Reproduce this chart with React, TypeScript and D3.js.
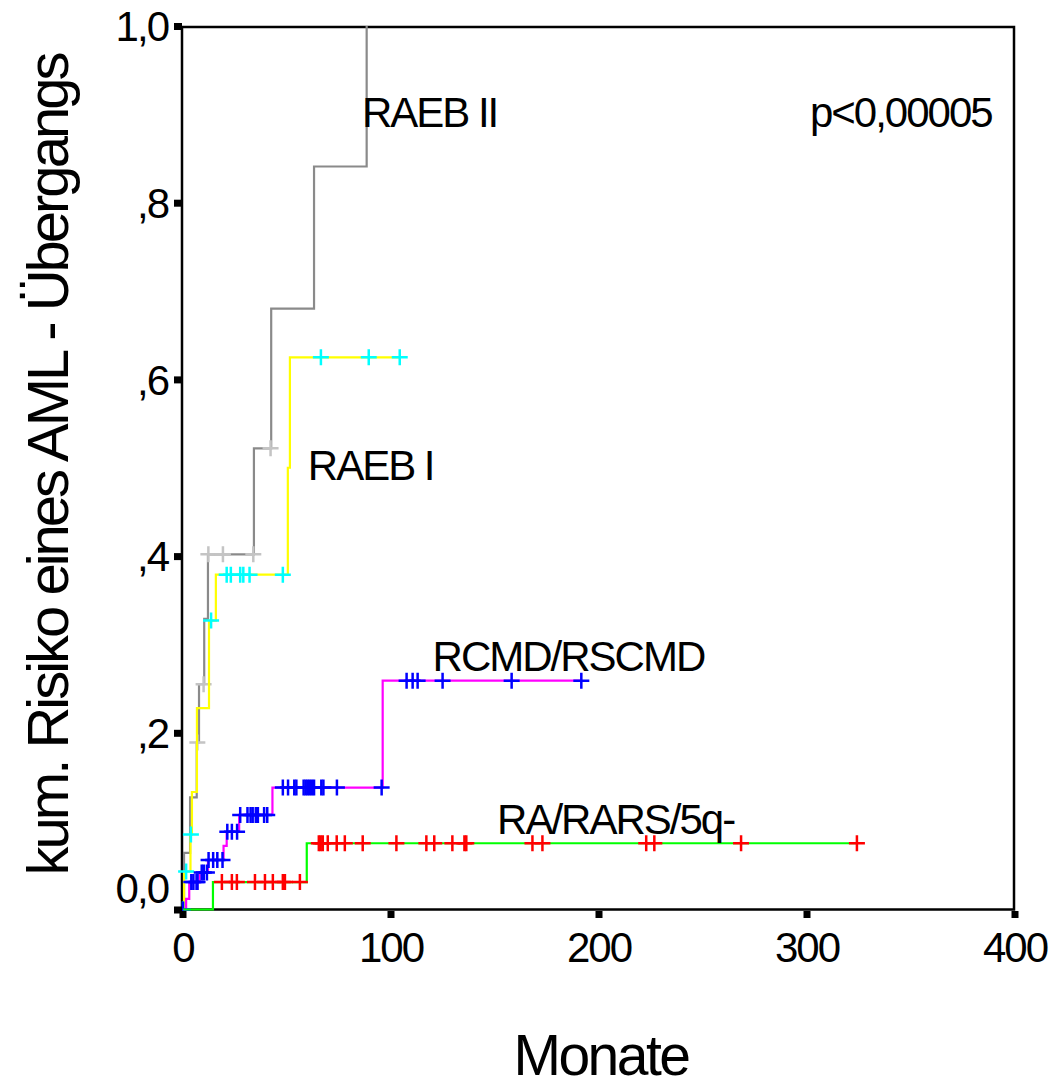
import React from "react";
import * as d3 from "d3";

// RAEB II (grey line, light grey censor marks)
const raeb2Times = [0.5, 3.4, 6.6, 7.7, 10.2, 12.0, 34.1, 42.4, 63, 88.3];
const raeb2Values = [0.064, 0.127, 0.189, 0.255, 0.329, 0.402, 0.522, 0.68, 0.841, 1.0];
const raeb2Censored = [6.9, 9.9, 12.2, 19.2, 33.8, 42.1];

// RAEB I (yellow line, cyan censor marks)
const raeb1Times = [0.5, 3.6, 4.3, 6.7, 12.5, 15.8, 50.4, 51.4];
const raeb1Values = [0.043, 0.085, 0.133, 0.228, 0.327, 0.379, 0.5, 0.625];
const raeb1Censored = [0, 1.5, 3.8, 13.5, 21, 23, 27.5, 29, 32, 48, 66.3, 89.3, 104.2];

// RCMD/RSCMD (magenta line, blue censor marks)
const rcmdTimes = [1.5, 3, 8, 12, 19.5, 21, 27, 43, 96];
const rcmdValues = [0.012, 0.031, 0.042, 0.056, 0.072, 0.088, 0.107, 0.138, 0.259];
const rcmdCensored = [
  0, 4, 5, 6.5, 7, 9, 10, 11.5, 12.3, 14.5, 16.5, 19, 21.3, 23.5, 26, 27.5, 31, 32.5,
  33.5, 35, 36, 39, 40.5, 48, 50.5, 53.5, 54.5, 58, 59, 60, 61, 62, 63, 66.5, 67.5, 74,
  95.5, 107.5, 110.4, 112.8, 124.8, 158, 191.5,
];

// RA/RARS/5q- (green line, red censor marks)
const raTimes = [14.4, 59.5];
const raValues = [0.031, 0.075];
const raCensored = [
  18.7, 23.5, 25.9, 34.6, 39.4, 43.2, 48, 49, 56.2, 65.3, 66.2, 67.2, 69.6, 73.9, 77.8,
  86.4, 102.6, 117, 120.8, 129.5, 135.3, 136.2, 168, 172.8, 222.7, 226.6, 268.3, 324,
];

const xTicks = [0, 100, 200, 300, 400];
const yTicks = [0, 0.2, 0.4, 0.6, 0.8, 1.0];
const yTickLabels = ["0,0", ",2", ",4", ",6", ",8", "1,0"];

const series = [
  { name: "RAEB II", times: raeb2Times, values: raeb2Values, censored: raeb2Censored, line: "#8a8a8a", mark: "#c4c4c4" },
  { name: "RAEB I", times: raeb1Times, values: raeb1Values, censored: raeb1Censored, line: "#ffff00", mark: "#00ffff" },
  { name: "RCMD/RSCMD", times: rcmdTimes, values: rcmdValues, censored: rcmdCensored, line: "#ff00ff", mark: "#0000ff" },
  { name: "RA/RARS/5q-", times: raTimes, values: raValues, censored: raCensored, line: "#00ff00", mark: "#ff0000" },
];

const font = "'Liberation Sans', Arial, sans-serif";

function stepValue(times: number[], values: number[], t: number) {
  let v = 0;
  times.forEach((tt, i) => {
    if (tt <= t) v = values[i];
  });
  return v;
}

export default function App() {
  const width = 1060, height = 1090;
  const x = d3.scaleLinear().domain([0, 400]).range([183, 1015]);
  const y = d3.scaleLinear().domain([0, 1]).range([909.5, 26]);

  const line = d3.line<[number, number]>()
    .x(d => x(d[0]))
    .y(d => y(d[1]))
    .curve(d3.curveStepAfter);

  return (
    <svg width={width} height={height} style={{ position: "absolute", left: 0, top: 0, background: "#fff" }}>
      {/* plot frame */}
      <rect x={182} y={27} width={1014 - 182} height={909.5 - 27} fill="none" stroke="#000" strokeWidth={2.5} />

      {/* curves */}
      {series.map(s => {
        const end = Math.max(s.times[s.times.length - 1], d3.max(s.censored) as number);
        const pts: [number, number][] = [[0, 0]];
        s.times.forEach((t, i) => pts.push([t, s.values[i]]));
        pts.push([end, stepValue(s.times, s.values, end)]);
        return (
          <g key={s.name}>
            <path d={line(pts) || ""} fill="none" stroke={s.line} strokeWidth={2.2} />
            {s.censored.map((t, i) => {
              const cx = x(t), cy = y(stepValue(s.times, s.values, t));
              return (
                <path key={i} d={`M${cx - 8},${cy}H${cx + 8}M${cx},${cy - 8}V${cy + 8}`}
                  stroke={s.mark} strokeWidth={2.5} fill="none" />
              );
            })}
          </g>
        );
      })}

      {/* y ticks */}
      {yTicks.map((v, i) => (
        <g key={v}>
          <rect x={174} y={y(v) - 3} width={8} height={7} fill="#000" />
          <text x={168} y={y(v) - (v === 0 ? 22 : 0)} dy="0.36em" textAnchor="end"
            fontFamily={font} fontSize={42} letterSpacing={-2}>{yTickLabels[i]}</text>
        </g>
      ))}

      {/* x ticks */}
      {xTicks.map(t => (
        <g key={t}>
          <rect x={x(t) - 3.5} y={911} width={7} height={7} fill="#000" />
          <text x={x(t)} y={962} textAnchor="middle" fontFamily={font} fontSize={42} letterSpacing={-2}>{t}</text>
        </g>
      ))}

      {/* labels */}
      <g fontFamily={font} fontSize={42} letterSpacing={-2}>
        <text x={x(86)} y={y(0.886)}>RAEB II</text>
        <text x={x(60)} y={y(0.486)}>RAEB I</text>
        <text x={x(120)} y={y(0.27)}>RCMD/RSCMD</text>
        <text x={x(151)} y={y(0.085)}>RA/RARS/5q-</text>
        <text x={x(301.4)} y={y(0.886)}>p&lt;0,00005</text>
      </g>

      <text x={601} y={1075} textAnchor="middle" fontFamily={font} fontSize={57} letterSpacing={-2.5}>Monate</text>
      <text transform="translate(68,465) rotate(-90)" textAnchor="middle" fontFamily={font}
        fontSize={58} letterSpacing={-3}>kum. Risiko eines AML - Übergangs</text>
    </svg>
  );
}
